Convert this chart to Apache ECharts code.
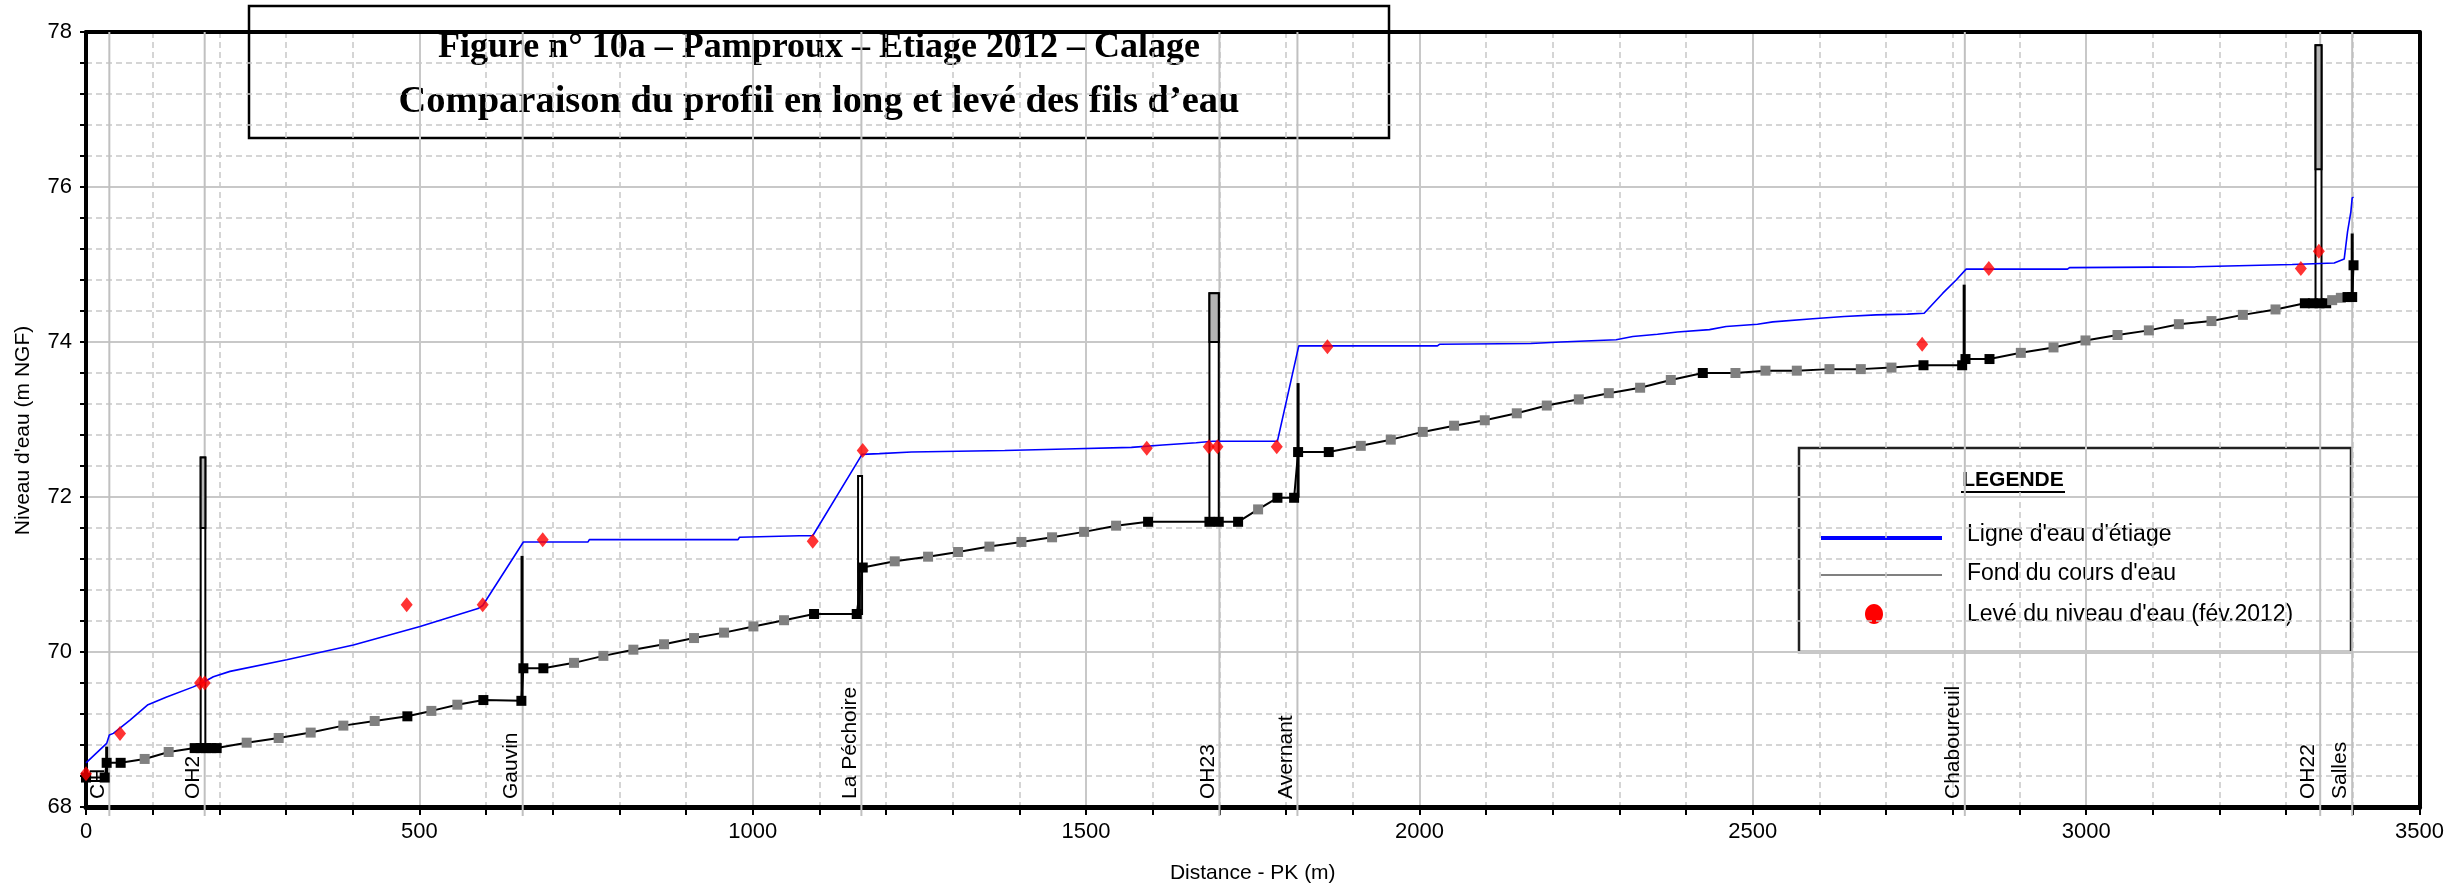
<!DOCTYPE html>
<html>
<head>
<meta charset="utf-8">
<title>Pamproux – Etiage 2012 – Calage</title>
<script src="https://cdn.jsdelivr.net/npm/echarts@6/dist/echarts.min.js"></script>
<style>
  html, body { margin: 0; padding: 0; background: #ffffff; }
  #chart { width: 2447px; height: 892px; }
</style>
</head>
<body>
<div id="chart"></div>
<script>
// Ligne d'eau d'étiage (PK en m, cote en m NGF)
const waterPk = [0, 31, 35, 41, 66, 93, 121, 161, 174, 191, 216, 301, 401, 501, 588, 595,
  656, 753, 755, 978, 980, 1070, 1090, 1164, 1190, 1238, 1378, 1470, 1568, 1615, 1665, 1690,
  1787, 1819, 2027, 2030, 2167, 2212, 2295, 2320, 2357, 2387, 2435, 2460, 2507, 2530, 2590,
  2637, 2685, 2732, 2757, 2785, 2805, 2820, 2972, 2975, 3164, 3309, 3372, 3387, 3392, 3397,
  3399, 3401];
const waterZ = [68.57, 68.82, 68.93, 68.95, 69.12, 69.32, 69.42, 69.55, 69.60, 69.68, 69.75,
  69.90, 70.09, 70.33, 70.56, 70.60, 71.42, 71.42, 71.45, 71.45, 71.48, 71.50, 71.50, 72.55,
  72.56, 72.58, 72.60, 72.62, 72.64, 72.67, 72.70, 72.72, 72.72, 73.95, 73.95, 73.97, 73.98,
  74.00, 74.03, 74.07, 74.10, 74.13, 74.16, 74.20, 74.23, 74.26, 74.30, 74.33, 74.35, 74.36,
  74.37, 74.63, 74.80, 74.94, 74.94, 74.96, 74.97, 75.00, 75.02, 75.07, 75.42, 75.68, 75.86,
  75.87];

// Fond du cours d'eau : 1 = profil levé, 0 = profil interpolé
const bedPk = [0, 28, 31, 52, 88, 124, 163, 172, 180, 188, 196, 241, 289, 337, 386, 433, 482,
  518, 557, 596, 653, 656, 686, 732, 776, 821, 867, 912, 957, 1001, 1047, 1092, 1156, 1165,
  1213, 1263, 1308, 1355, 1403, 1449, 1497, 1545, 1593, 1685, 1699, 1728, 1758, 1787, 1812,
  1818, 1864, 1912, 1957, 2005, 2052, 2098, 2146, 2191, 2239, 2284, 2331, 2377, 2425, 2474,
  2519, 2566, 2615, 2662, 2708, 2756, 2814, 2819, 2855, 2902, 2951, 2999, 3047, 3094, 3139,
  3188, 3235, 3284, 3328, 3340, 3350, 3360, 3369, 3382, 3392, 3399, 3401];
const bedZ = [68.38, 68.38, 68.57, 68.57, 68.62, 68.71, 68.76, 68.76, 68.76, 68.76, 68.76,
  68.83, 68.89, 68.96, 69.05, 69.11, 69.17, 69.24, 69.32, 69.38, 69.37, 69.79, 69.79, 69.86,
  69.95, 70.03, 70.10, 70.18, 70.25, 70.33, 70.41, 70.49, 70.49, 71.09, 71.17, 71.23, 71.29,
  71.36, 71.42, 71.48, 71.55, 71.63, 71.68, 71.68, 71.68, 71.68, 71.84, 71.99, 71.99, 72.58,
  72.58, 72.66, 72.74, 72.84, 72.92, 72.99, 73.08, 73.18, 73.26, 73.34, 73.41, 73.51, 73.60,
  73.60, 73.63, 73.63, 73.65, 73.65, 73.67, 73.70, 73.70, 73.78, 73.78, 73.86, 73.93, 74.02,
  74.09, 74.15, 74.23, 74.27, 74.35, 74.42, 74.50, 74.50, 74.50, 74.50, 74.54, 74.57, 74.58,
  74.58, 74.99];
const bedMeasured = [1, 1, 1, 1, 0, 0, 1, 1, 1, 1, 1, 0, 0, 0, 0, 0, 1, 0, 0, 1, 1, 1, 1, 0,
  0, 0, 0, 0, 0, 0, 0, 1, 1, 1, 0, 0, 0, 0, 0, 0, 0, 0, 1, 1, 1, 1, 0, 1, 1, 1, 1, 0, 0, 0, 0,
  0, 0, 0, 0, 0, 0, 0, 1, 0, 0, 0, 0, 0, 0, 1, 1, 1, 1, 0, 0, 0, 0, 0, 0, 0, 0, 0, 1, 1, 1, 1,
  0, 0, 1, 1, 1];

// Levé du niveau d'eau (fév. 2012)
const surveyPk = [0, 51, 171, 178, 481, 595, 685, 1090, 1165, 1591, 1684, 1697, 1786, 1862,
  2754, 2854, 3322, 3349];
const surveyZ = [68.43, 68.95, 69.60, 69.60, 70.61, 70.61, 71.45, 71.43, 72.60, 72.63, 72.65,
  72.65, 72.65, 73.94, 73.97, 74.95, 74.95, 75.17];

// Ouvrages de franchissement : PK amont / aval, cote radier, cote haut, sous-face tablier
const bridgePkFrom = [172, 1158, 1685, 3344];
const bridgePkTo = [179, 1164, 1699, 3353];
const bridgeBase = [68.76, 70.49, 71.68, 74.50];
const bridgeTop = [72.51, 72.27, 74.63, 77.83];
const bridgeDeck = [71.60, 72.27, 74.00, 76.23];

// Seuils : PK, cote pied, cote crête
const weirPk = [31, 654, 1160, 1818, 2817, 3399];
const weirLow = [68.38, 69.37, 70.49, 71.99, 73.70, 74.58];
const weirHigh = [68.78, 71.24, 71.10, 73.47, 74.74, 75.40];

// Repères du profil en long
const stationPk = [35, 178, 655, 1163, 1700, 1817, 2818, 3351, 3399];
const stationName = ['CH', 'OH2', 'Gauvin', 'La Péchoire', 'OH23', 'Avernant', 'Chaboureuil', 'OH22', 'Salles'];

// Échelles
const pkMin = 0, pkMax = 3500, pkStep = 500;
const zMin = 68, zMax = 78, zStep = 2;

const seriesNames = ["Ligne d'eau d'étiage", "Fond du cours d'eau", "Levé du niveau d'eau (fév.2012)"];
const titleLines = ['Figure n° 10a – Pamproux – Etiage 2012 – Calage',
  'Comparaison du profil en long et levé des fils d’eau'];

const SANS = '"Liberation Sans", Arial, sans-serif';
const SERIF = '"Liberation Serif", "Times New Roman", serif';

const chart = echarts.init(document.getElementById('chart'), null, { renderer: 'canvas' });

const bedData = bedPk.map((pk, i) => ({
  value: [pk, bedZ[i]],
  itemStyle: { color: bedMeasured[i] ? '#000000' : '#808080' }
}));

const gridLine = { color: '#c8c8c8', width: 2 };
const gridMinor = { color: '#c8c8c8', width: 1.5, type: [6, 4] };
const plainNumber = v => String(v);

// cadre haut / droite : axes sans graduation
const frameAxis = {
  axisLine: { show: true, onZero: false, lineStyle: { color: '#000', width: 4 } },
  axisTick: { show: false }, axisLabel: { show: false },
  splitLine: { show: false }, minorSplitLine: { show: false }
};

const option = {
  animation: false,
  backgroundColor: '#ffffff',
  grid: { left: 86, right: 27, top: 32, bottom: 85 },
  xAxis: [{
    type: 'value', position: 'bottom', min: pkMin, max: pkMax, interval: pkStep,
    name: 'Distance - PK (m)', nameLocation: 'middle', nameGap: 56,
    nameTextStyle: { fontFamily: SANS, fontSize: 21, color: '#000' },
    axisLine: { show: true, onZero: false, lineStyle: { color: '#000', width: 5 } },
    axisTick: { show: true, length: 8, lineStyle: { color: '#000', width: 2 } },
    minorTick: { show: true, splitNumber: 5, length: 8, lineStyle: { color: '#000', width: 2 } },
    splitLine: { show: true, lineStyle: gridLine },
    minorSplitLine: { show: true, lineStyle: gridMinor },
    axisLabel: { fontFamily: SANS, fontSize: 22, color: '#000', margin: 14, formatter: plainNumber }
  }, Object.assign({ type: 'value', position: 'top', min: pkMin, max: pkMax, interval: pkStep }, frameAxis)],
  yAxis: [{
    type: 'value', position: 'left', min: zMin, max: zMax, interval: zStep,
    name: "Niveau d'eau (m NGF)", nameLocation: 'middle', nameGap: 52, nameRotate: 90,
    nameTextStyle: { fontFamily: SANS, fontSize: 21, color: '#000', padding: [0, 22, 0, 0] },
    axisLine: { show: true, onZero: false, lineStyle: { color: '#000', width: 4 } },
    axisTick: { show: true, length: 6, lineStyle: { color: '#000', width: 2 } },
    minorTick: { show: true, splitNumber: 5, length: 6, lineStyle: { color: '#000', width: 2 } },
    splitLine: { show: true, lineStyle: gridLine },
    minorSplitLine: { show: true, lineStyle: gridMinor },
    axisLabel: { fontFamily: SANS, fontSize: 22, color: '#000', margin: 14, formatter: plainNumber }
  }, Object.assign({ type: 'value', position: 'right', min: zMin, max: zMax, interval: zStep }, frameAxis)],
  series: [
    {
      // traits verticaux des repères
      type: 'custom', z: 1, silent: true,
      data: stationPk.map((pk, i) => [pk, i]),
      renderItem(params, api) {
        const top = api.coord([api.value(0), zMax]);
        const bot = api.coord([api.value(0), zMin]);
        return {
          type: 'line',
          shape: { x1: top[0], y1: top[1], x2: bot[0], y2: bot[1] + 9 },
          style: { stroke: '#c0c0c0', lineWidth: 2 }
        };
      }
    },
    {
      // ouvrages
      type: 'custom', z: 2, silent: true,
      data: bridgePkFrom.map((pk, i) => [pk, bridgePkTo[i], bridgeBase[i], bridgeTop[i], bridgeDeck[i]]),
      renderItem(params, api) {
        const a = api.coord([api.value(0), api.value(3)]);
        const b = api.coord([api.value(1), api.value(2)]);
        const d = api.coord([api.value(0), api.value(4)]);
        return {
          type: 'group',
          children: [
            { type: 'rect', shape: { x: a[0], y: a[1], width: b[0] - a[0], height: b[1] - a[1] },
              style: { fill: '#ffffff', stroke: '#000', lineWidth: 2 } },
            { type: 'rect', shape: { x: a[0], y: a[1], width: b[0] - a[0], height: d[1] - a[1] },
              style: { fill: '#b4b4b4', stroke: '#000', lineWidth: 2 } }
          ]
        };
      }
    },
    {
      name: seriesNames[1], type: 'line', z: 3, data: bedData,
      symbol: 'rect', symbolSize: 10, showAllSymbol: true,
      lineStyle: { color: '#000', width: 2 }, itemStyle: { color: '#000' }
    },
    {
      // seuils
      type: 'custom', z: 4, silent: true,
      data: weirPk.map((pk, i) => [pk, weirLow[i], weirHigh[i]]),
      renderItem(params, api) {
        const lo = api.coord([api.value(0), api.value(1)]);
        const hi = api.coord([api.value(0), api.value(2)]);
        return {
          type: 'line',
          shape: { x1: lo[0], y1: lo[1], x2: hi[0], y2: hi[1] },
          style: { stroke: '#000', lineWidth: 3 }
        };
      }
    },
    {
      name: seriesNames[0], type: 'line', z: 5,
      data: waterPk.map((pk, i) => [pk, waterZ[i]]),
      symbol: 'none', lineStyle: { color: '#0000ff', width: 1.6 }
    },
    {
      name: seriesNames[2], type: 'scatter', z: 6,
      data: surveyPk.map((pk, i) => [pk, surveyZ[i]]),
      symbol: 'diamond', symbolSize: [12, 15], itemStyle: { color: '#ff0000' }
    },
    {
      // noms des repères
      type: 'custom', z: 7, silent: true,
      data: stationPk.map((pk, i) => [pk, i]),
      renderItem(params, api) {
        const p = api.coord([api.value(0), zMin]);
        return {
          type: 'text', x: p[0] - 1, y: p[1] - 8, rotation: Math.PI / 2,
          style: { text: stationName[api.value(1)], fontFamily: SANS, fontSize: 21, fill: '#000',
                   align: 'left', verticalAlign: 'bottom' }
        };
      }
    }
  ],
  graphic: [
    {
      type: 'group', z: 100,
      children: [
        { type: 'rect', shape: { x: 249, y: 6, width: 1140, height: 132 },
          style: { fill: '#ffffff', stroke: '#000', lineWidth: 2.5 } },
        { type: 'text', x: 819, y: 48,
          style: { text: titleLines[0], font: 'bold 36px ' + SERIF, fill: '#000', align: 'center', verticalAlign: 'middle' } },
        { type: 'text', x: 819, y: 102,
          style: { text: titleLines[1], font: 'bold 38.5px ' + SERIF, fill: '#000', align: 'center', verticalAlign: 'middle' } }
      ]
    },
    {
      type: 'group', z: 100,
      children: [
        { type: 'rect', shape: { x: 1793, y: 442, width: 566, height: 216 }, style: { fill: '#ffffff' } },
        { type: 'rect', shape: { x: 1799, y: 448, width: 552, height: 204 },
          style: { fill: '#ffffff', stroke: '#222', lineWidth: 2.5 } },
        { type: 'text', x: 2013, y: 480,
          style: { text: 'LEGENDE', font: 'bold 21px ' + SANS, fill: '#000', align: 'center', verticalAlign: 'middle' } },
        { type: 'line', shape: { x1: 1961, y1: 492, x2: 2065, y2: 492 }, style: { stroke: '#000', lineWidth: 2 } },
        { type: 'line', shape: { x1: 1821, y1: 538, x2: 1942, y2: 538 }, style: { stroke: '#0000ff', lineWidth: 4 } },
        { type: 'text', x: 1967, y: 535,
          style: { text: seriesNames[0], font: '23px ' + SANS, fill: '#000', align: 'left', verticalAlign: 'middle' } },
        { type: 'line', shape: { x1: 1821, y1: 575, x2: 1942, y2: 575 }, style: { stroke: '#808080', lineWidth: 2 } },
        { type: 'text', x: 1967, y: 574,
          style: { text: seriesNames[1], font: '23px ' + SANS, fill: '#000', align: 'left', verticalAlign: 'middle' } },
        { type: 'ellipse', shape: { cx: 1874, cy: 614, rx: 9, ry: 10 }, style: { fill: '#ff0000' } },
        { type: 'text', x: 1967, y: 615,
          style: { text: seriesNames[2], font: '23px ' + SANS, fill: '#000', align: 'left', verticalAlign: 'middle' } }
      ]
    }
  ]
};

chart.setOption(option);
</script>
</body>
</html>
